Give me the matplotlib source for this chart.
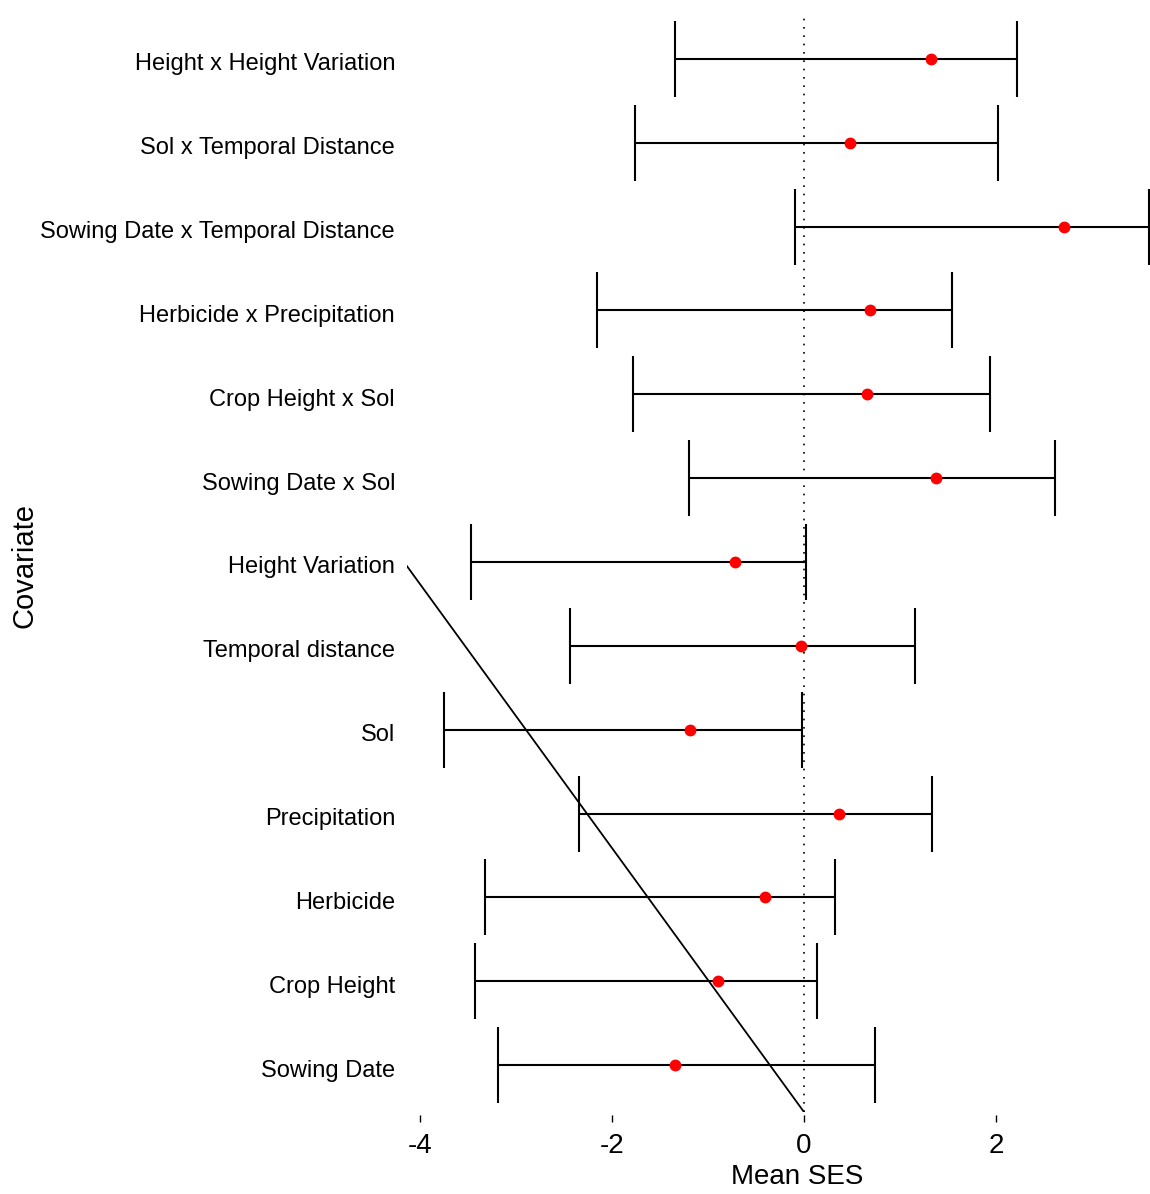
import matplotlib
matplotlib.use('Agg')

import matplotlib.pyplot as plt
import matplotlib.transforms as mtransforms

plt.rcParams['font.family'] = ['Liberation Sans', 'DejaVu Sans']

# covariates, bottom to top
covariates = ['Sowing Date', 'Crop Height', 'Herbicide', 'Precipitation', 'Sol',
              'Temporal distance', 'Height Variation', 'Sowing Date x Sol',
              'Crop Height x Sol', 'Herbicide x Precipitation',
              'Sowing Date x Temporal Distance', 'Sol x Temporal Distance',
              'Height x Height Variation']
mean_ses = [-1.34, -0.90, -0.41, 0.36, -1.19, -0.03, -0.72, 1.38, 0.66, 0.69, 2.71, 0.48, 1.32]
lower = [-3.19, -3.43, -3.32, -2.34, -3.75, -2.44, -3.47, -1.20, -1.78, -2.16, -0.09, -1.76, -1.34]
upper = [0.74, 0.14, 0.32, 1.33, -0.02, 1.16, 0.02, 2.61, 1.94, 1.54, 3.59, 2.02, 2.22]

# the stray diagonal line
diag_x = [-4.135, 0.0]
diag_y = [6.95, 0.44]

xticks = [-4, -2, 0, 2]

fig = plt.figure(figsize=(11.5, 11.94), dpi=100)
ax = fig.add_axes([407 / 1150, 1 - 1112 / 1194, 1 - 407 / 1150, (1112 - 12) / 1194])

ypos = list(range(1, len(covariates) + 1))
xerr = [[m - lo for m, lo in zip(mean_ses, lower)],
        [up - m for m, up in zip(mean_ses, upper)]]

ax.errorbar(mean_ses, ypos, xerr=xerr, fmt='none', ecolor='black',
            elinewidth=1.5, capsize=27.5, capthick=1.5, zorder=2)
ax.plot(mean_ses, ypos, 'o', color='red', markersize=7.5, zorder=4)
ax.axvline(0, color='black', linestyle=(0, (1, 4)), linewidth=1.2, zorder=1)
ax.plot(diag_x, diag_y, color='black', linewidth=1.3, zorder=3)

ax.set_xlim(-4.135, 3.604)
ax.set_ylim(0.44, 13.56)

for s in ax.spines.values():
    s.set_visible(False)
ax.spines['bottom'].set_position(('outward', 2.2))

ax.set_xticks(xticks)
ax.set_xticklabels([str(t) for t in xticks])
ax.tick_params(axis='x', direction='out', length=5, width=1, pad=8, labelsize=20)

ax.set_yticks(ypos)
ax.set_yticklabels(covariates)
ax.tick_params(axis='y', length=0, pad=8.6, labelsize=17)
# R puts these labels a touch lower than the bars
shift = mtransforms.ScaledTranslation(0, -3 / 100, fig.dpi_scale_trans)
for lab in ax.get_yticklabels():
    lab.set_transform(lab.get_transform() + shift)

fig.text(25 / 1150, 1 - 566 / 1194, 'Covariate', rotation=90,
         ha='center', va='center', fontsize=21)
fig.text(797 / 1150, 1 - 1177 / 1194, 'Mean SES', ha='center', va='center', fontsize=20)

plt.savefig('out.png', dpi=100)
plt.close(fig)
